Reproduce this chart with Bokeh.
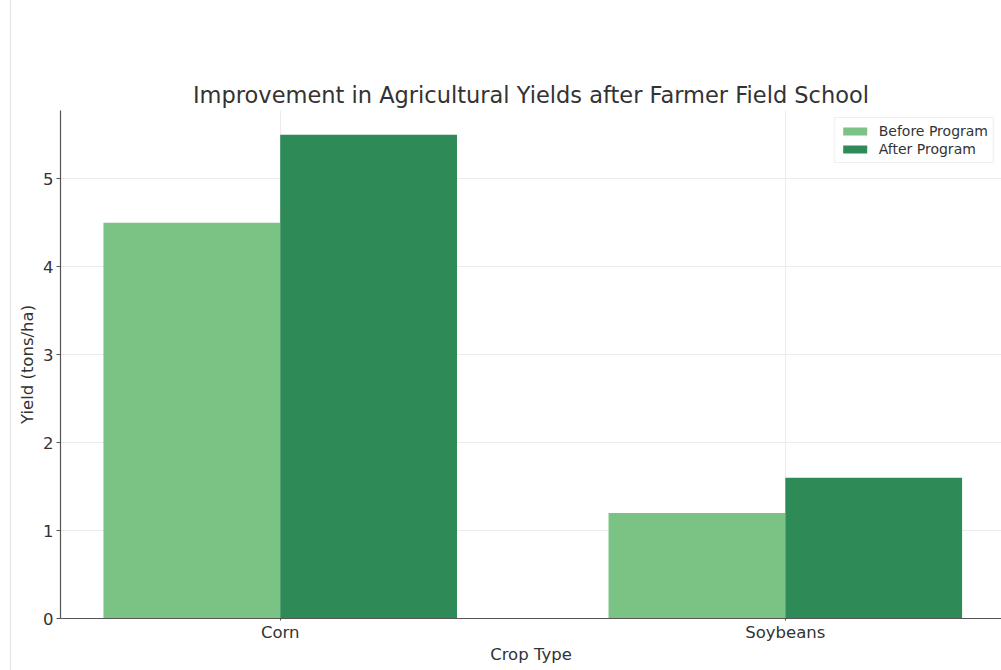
import numpy as np
from bokeh.plotting import figure
from bokeh.models import ColumnDataSource, FixedTicker, Range1d, Div, Legend, LegendItem
from bokeh.transform import dodge
from bokeh.layouts import row
from bokeh.embed import file_html
from bokeh.resources import INLINE

crops = ["Corn", "Soybeans"]
before_program = [4.5, 1.2]
after_program = [5.5, 1.6]
y_ticks = [0, 1, 2, 3, 4, 5]

positions = list(np.arange(len(crops)))
src = ColumnDataSource(dict(x=positions, before=before_program, after=after_program))

FONT = "DejaVu Sans"
p = figure(width=990, height=670, output_backend="svg", toolbar_location=None,
           x_range=Range1d(-0.435, 1.428), y_range=Range1d(0, 5.775),
           title="Improvement in Agricultural Yields after Farmer Field School",
           min_border_left=49, min_border_right=0, min_border_top=110, min_border_bottom=52,
           margin=(0, 0, 0, 0))

bw = 0.35
r1 = p.vbar(x=dodge("x", -bw / 2), top="before", width=bw, source=src,
            fill_color="#7BC384", line_color=None)
r2 = p.vbar(x=dodge("x", bw / 2), top="after", width=bw, source=src,
            fill_color="#2E8B57", line_color=None)

legend = Legend(items=[LegendItem(label="Before Program", renderers=[r1]),
                       LegendItem(label="After Program", renderers=[r2])],
                location="top_right")
legend.label_text_font = FONT
legend.label_text_font_size = "14px"
legend.label_text_color = "#333333"
legend.glyph_width = 30
legend.glyph_height = 10
legend.label_height = 14
legend.label_standoff = 9
legend.spacing = 2
legend.padding = 5
legend.margin = 7
legend.border_line_color = "#dddddd"
legend.background_fill_alpha = 0.85
p.add_layout(legend)

p.title.text_font = FONT
p.title.text_font_size = "22.5px"
p.title.text_font_style = "normal"
p.title.text_color = "#333333"
p.title.align = "center"
p.title.standoff = 6

p.xaxis.ticker = FixedTicker(ticks=positions)
p.xaxis.major_label_overrides = {int(i): c for i, c in zip(positions, crops)}
p.yaxis.ticker = FixedTicker(ticks=y_ticks)
p.xaxis.axis_label = "Crop Type"
p.yaxis.axis_label = "Yield (tons/ha)"
for ax in (p.xaxis[0], p.yaxis[0]):
    ax.axis_label_text_font = FONT
    ax.axis_label_text_font_size = "16.5px"
    ax.axis_label_text_font_style = "normal"
    ax.axis_label_text_color = "#333333"
    ax.major_label_text_font = FONT
    ax.major_label_text_font_size = "16.5px"
    ax.major_label_text_color = "#333333"
    ax.axis_line_color = "#555555"
    ax.axis_line_width = 1.2
    ax.major_tick_line_color = "#555555"
    ax.major_tick_out = 4
    ax.major_tick_in = 0
    ax.minor_tick_line_color = None
    ax.major_label_standoff = 3
p.xaxis.major_tick_out = 2
p.xaxis.major_label_standoff = 2
p.xaxis.axis_label_standoff = 0
p.yaxis.axis_label_standoff = 3
p.yaxis.major_label_orientation = "horizontal"

p.xgrid.grid_line_color = "#ebebeb"
p.ygrid.grid_line_color = "#ebebeb"
p.xgrid.ticker = FixedTicker(ticks=positions)
p.ygrid.ticker = FixedTicker(ticks=y_ticks)
p.outline_line_color = None
p.background_fill_color = "white"
p.border_fill_color = "white"

edge = Div(text="", width=11, height=670, margin=(0, 0, 0, 0),
           styles={"border-right": "1px solid #e2e2e2", "box-sizing": "border-box", "height": "670px"})
layout = row(edge, p, spacing=0, margin=(0, 0, 0, 0))

open("out.html", "w").write(file_html(layout, INLINE))
